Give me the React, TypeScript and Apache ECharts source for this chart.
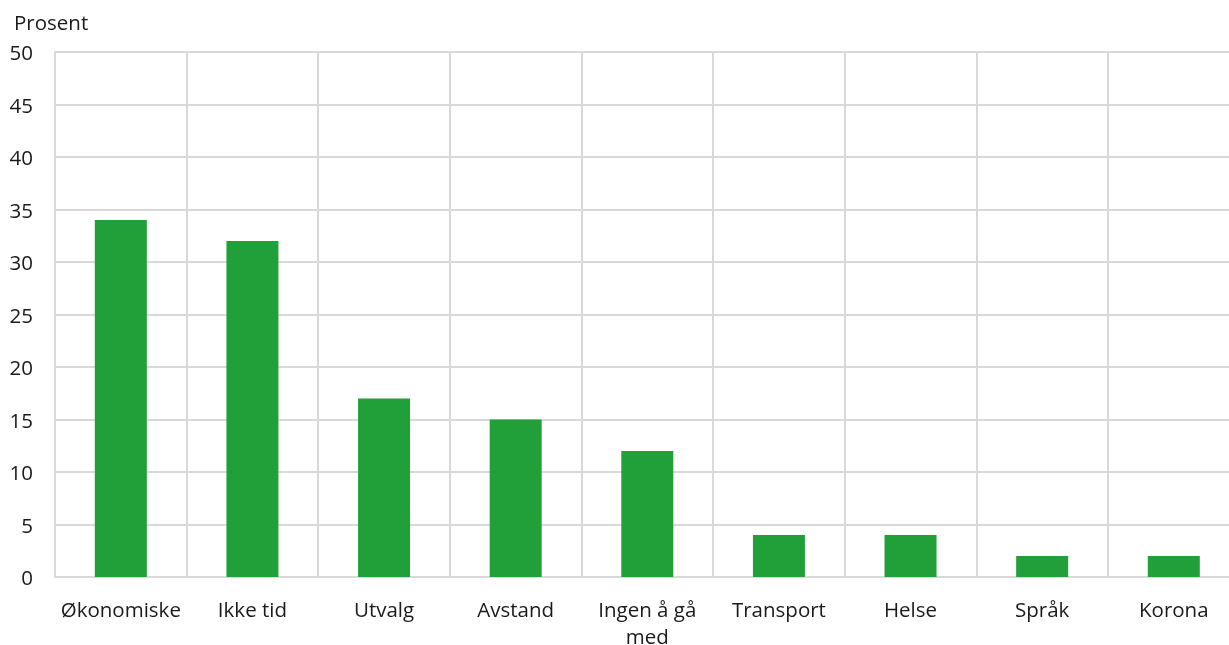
import React, { useEffect, useRef } from "react";
import * as echarts from "echarts";

const categories = ["Økonomiske", "Ikke tid", "Utvalg", "Avstand", "Ingen å gå\nmed", "Transport", "Helse", "Språk", "Korona"];
const values = [34, 32, 17, 15, 12, 4, 4, 2, 2];
const unitLabel = "Prosent";

export default function App() {
  const ref = useRef<HTMLDivElement>(null);
  useEffect(() => {
    if (!ref.current) return;
    const chart = echarts.init(ref.current, null, { renderer: "svg" });
    const font = "'Open Sans', sans-serif";
    chart.setOption({
      animation: false,
      title: {
        text: unitLabel,
        left: 9,
        top: 6,
        textStyle: { fontFamily: font, fontSize: 20.5, fontWeight: "normal", color: "#1a1a1a" },
      },
      grid: { left: 55, right: -10.6, top: 52, bottom: 68, containLabel: false, outerBoundsMode: "none" },
      xAxis: {
        type: "category",
        data: categories,
        axisLine: { show: true, lineStyle: { color: "#d9d9d9", width: 2 } },
        axisTick: { show: false },
        splitLine: { show: true, lineStyle: { color: "#d9d9d9", width: 2 } },
        axisLabel: {
          interval: 0,
          margin: 18,
          fontFamily: font,
          fontSize: 20.5,
          color: "#1a1a1a",
          lineHeight: 27,
        },
      },
      yAxis: {
        type: "value",
        min: 0,
        max: 50,
        interval: 5,
        axisLine: { show: true, lineStyle: { color: "#d9d9d9", width: 2 } },
        axisTick: { show: false },
        splitLine: { show: true, lineStyle: { color: "#d9d9d9", width: 2 } },
        axisLabel: { margin: 22, fontFamily: font, fontSize: 20.5, color: "#1a1a1a" },
      },
      series: [
        {
          type: "bar",
          data: values,
          barWidth: 52,
          itemStyle: { color: "#21a03a" },
        },
      ],
    });
    return () => chart.dispose();
  }, []);
  return <div ref={ref} style={{ position: "fixed", left: 0, top: 0, width: 1229, height: 645 }} />;
}
